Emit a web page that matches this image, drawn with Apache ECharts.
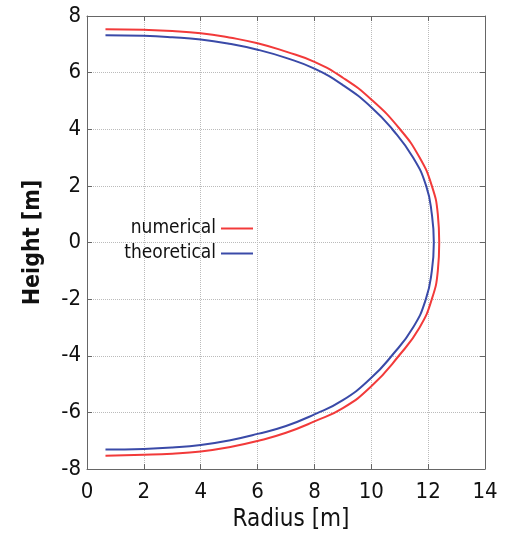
<!DOCTYPE html>
<html>
<head>
<meta charset="utf-8">
<script src="https://cdn.jsdelivr.net/npm/echarts@6/dist/echarts.min.js"></script>
<style>
  html, body { margin: 0; padding: 0; background: #fff; }
  #chart { width: 514px; height: 534px; }
</style>
</head>
<body>
<div id="chart"></div>
<script>
// values, traced from top to bottom
var numericalRadius = [0.65, 2, 3, 4, 5, 6, 7, 8, 9, 10, 11.01, 11.7, 12.13, 12.34, 12.39,
    12.34, 12.13, 11.7, 10.97, 10, 9, 8, 7, 6, 5, 4, 3, 2, 0.65];
var numericalHeight = [7.53, 7.51, 7.47, 7.39, 7.24, 7.04, 6.74, 6.38, 5.82, 5.05, 4, 3, 2, 1, 0,
    -1, -2, -3, -4, -5.08, -5.85, -6.32, -6.72, -7.01, -7.23, -7.38, -7.46, -7.5, -7.53];
var theoreticalRadius = [0.65, 2, 3, 4, 5, 6, 7, 8, 9, 10, 10.74, 11.47, 11.93, 12.13, 12.2,
    12.13, 11.92, 11.47, 10.72, 10, 9, 8, 7, 6, 5, 4, 3, 2, 0.65];
var theoreticalHeight = [7.32, 7.3, 7.25, 7.17, 7.02, 6.81, 6.52, 6.14, 5.56, 4.78, 4, 3, 2, 1, 0,
    -1, -2, -3, -4, -4.78, -5.57, -6.07, -6.48, -6.76, -6.99, -7.15, -7.24, -7.29, -7.31];

function pairs(xs, ys) {
    var out = [];
    for (var i = 0; i < xs.length; i++) out.push([xs[i], ys[i]]);
    return out;
}

var font = '"DejaVu Sans Condensed", "DejaVu Sans", sans-serif';
var frameColor = '#666';
var legendText = { fontFamily: font, fontSize: 19, color: '#111' };

var myChart = echarts.init(document.getElementById('chart'));
myChart.setOption({
    animation: false,
    textStyle: { fontFamily: font },
    grid: { left: 87, right: 29, top: 16, bottom: 65, outerBoundsMode: 'none' },
    legend: [
        {
            data: ['numerical'], right: 261, top: 219, align: 'right',
            icon: 'rect', itemWidth: 32, itemHeight: 2, padding: 0,
            textStyle: legendText
        },
        {
            data: ['theoretical'], right: 261, top: 244, align: 'right',
            icon: 'rect', itemWidth: 32, itemHeight: 2, padding: 0,
            textStyle: legendText
        }
    ],
    xAxis: [
        {
            type: 'value', min: 0, max: 14, interval: 2,
            name: 'Radius [m]', nameLocation: 'middle', nameGap: 37,
            nameTextStyle: { fontFamily: font, fontSize: 24, color: '#111', padding: [0, 0, 0, 10] },
            axisLine: { show: true, onZero: false, lineStyle: { color: frameColor } },
            axisTick: { show: true, inside: true, length: 5, lineStyle: { color: frameColor } },
            axisLabel: { fontFamily: font, fontSize: 22, color: '#111', margin: 12 },
            splitLine: { show: true, lineStyle: { color: '#bbb', type: 'dotted' } }
        },
        {
            type: 'value', position: 'top', min: 0, max: 14, interval: 2,
            axisLine: { show: true, onZero: false, lineStyle: { color: frameColor } },
            axisTick: { show: true, inside: true, length: 5, lineStyle: { color: frameColor } },
            axisLabel: { show: false },
            splitLine: { show: false }
        }
    ],
    yAxis: [
        {
            type: 'value', min: -8, max: 8, interval: 2,
            name: 'Height [m]', nameLocation: 'middle', nameGap: 42,
            nameTextStyle: { fontFamily: font, fontSize: 23, fontWeight: 'bold', color: '#111' },
            axisLine: { show: true, onZero: false, lineStyle: { color: frameColor } },
            axisTick: { show: true, inside: true, length: 5, lineStyle: { color: frameColor } },
            axisLabel: { fontFamily: font, fontSize: 22, color: '#111', margin: 6 },
            splitLine: { show: true, lineStyle: { color: '#bbb', type: 'dotted' } }
        },
        {
            type: 'value', position: 'right', min: -8, max: 8, interval: 2,
            axisLine: { show: true, onZero: false, lineStyle: { color: frameColor } },
            axisTick: { show: true, inside: true, length: 5, lineStyle: { color: frameColor } },
            axisLabel: { show: false },
            splitLine: { show: false }
        }
    ],
    series: [
        {
            name: 'numerical',
            type: 'line',
            data: pairs(numericalRadius, numericalHeight),
            smooth: 0.5,
            symbol: 'none',
            itemStyle: { color: '#f23a3a' },
            lineStyle: { color: '#f23a3a', width: 2 }
        },
        {
            name: 'theoretical',
            type: 'line',
            data: pairs(theoreticalRadius, theoreticalHeight),
            smooth: 0.5,
            symbol: 'none',
            itemStyle: { color: '#3a4aa8' },
            lineStyle: { color: '#3a4aa8', width: 2 }
        }
    ]
});
</script>
</body>
</html>
